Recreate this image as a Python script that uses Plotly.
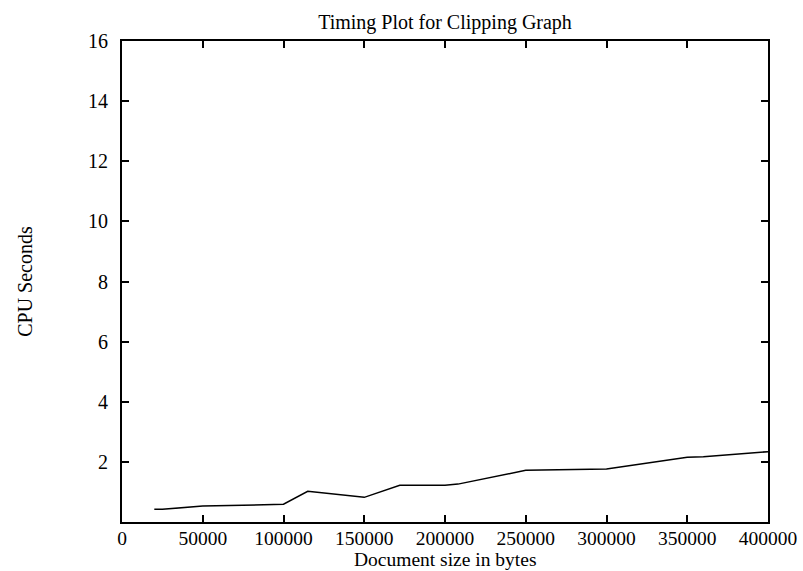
import plotly.graph_objects as go

# Document size (bytes) and CPU time (seconds) for the clipping graph
doc_size = [20000, 25000, 50000, 100000, 115000, 150000, 172000,
            200000, 208000, 250000, 300000, 350000, 360000, 400000]
cpu_seconds = [0.42, 0.42, 0.53, 0.59, 1.02, 0.82, 1.22,
               1.22, 1.26, 1.72, 1.76, 2.15, 2.17, 2.34]

x_ticks = [0, 50000, 100000, 150000, 200000, 250000, 300000, 350000, 400000]
y_ticks = [2, 4, 6, 8, 10, 12, 14, 16]

FONT = "Liberation Serif, Times New Roman, serif"
FS = 20
PLOT_TOP, PLOT_BOTTOM = 41, 522

fig = go.Figure()
fig.add_trace(go.Scatter(
    x=doc_size, y=cpu_seconds, mode="lines",
    line=dict(color="black", width=1.5),
    showlegend=False,
))

axis_common = dict(
    showline=True, linecolor="black", linewidth=1.8,
    mirror="ticks", ticks="inside", ticklen=7, tickwidth=1.5, tickcolor="black",
    showgrid=False, zeroline=False, automargin=False,
)

fig.update_xaxes(
    range=[0, 400000], tickvals=x_ticks, ticktext=[str(v) for v in x_ticks],
    ticklabelstandoff=-2,
    tickfont=dict(family=FONT, size=19.5, color="black"),
    **axis_common,
)
fig.update_yaxes(
    range=[0, 16], tickvals=y_ticks, ticktext=[str(v) for v in y_ticks],
    ticklabelstandoff=8,
    tickfont=dict(family=FONT, size=FS, color="black"),
    title=dict(text="CPU Seconds", standoff=50,
               font=dict(family=FONT, size=FS, color="black")),
    **axis_common,
)

# x-axis caption sits just under the tick labels
fig.add_annotation(
    text="Document size in bytes", xref="paper", yref="paper",
    x=0.5, y=-(559 - PLOT_BOTTOM) / (PLOT_BOTTOM - PLOT_TOP),
    xanchor="center", yanchor="middle", showarrow=False, borderpad=0,
    font=dict(family=FONT, size=19.5, color="black"),
)

fig.update_layout(
    width=803, height=571,
    margin=dict(l=122, r=35, t=PLOT_TOP, b=571 - PLOT_BOTTOM, autoexpand=False),
    paper_bgcolor="white", plot_bgcolor="white",
    title=dict(text="Timing Plot for Clipping Graph",
               x=0.5 * (122 + 768) / 803, xanchor="center", xref="container",
               y=1 - 22 / 571, yanchor="middle", yref="container",
               font=dict(family=FONT, size=FS, color="black")),
)

fig.write_html("out.html")
